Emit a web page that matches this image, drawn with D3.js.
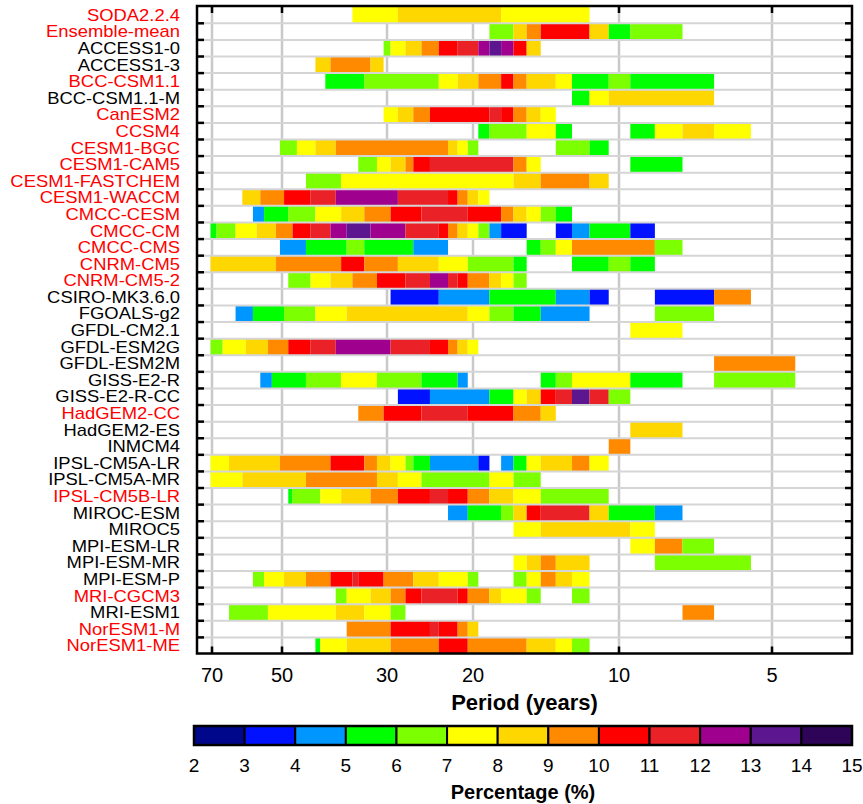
<!DOCTYPE html>
<html>
<head>
<meta charset="utf-8">
<script src="https://cdn.jsdelivr.net/npm/d3@7"></script>
<style>
  html, body { margin: 0; padding: 0; background: #fff; }
  svg { display: block; font-family: "Liberation Sans", Arial, sans-serif; }
</style>
</head>
<body>
<svg id="chart" width="863" height="804"></svg>
<script>
const models = [
  "SODA2.2.4", "Ensemble-mean", "ACCESS1-0", "ACCESS1-3", "BCC-CSM1.1", "BCC-CSM1.1-M",
  "CanESM2", "CCSM4", "CESM1-BGC", "CESM1-CAM5", "CESM1-FASTCHEM", "CESM1-WACCM",
  "CMCC-CESM", "CMCC-CM", "CMCC-CMS", "CNRM-CM5", "CNRM-CM5-2", "CSIRO-MK3.6.0",
  "FGOALS-g2", "GFDL-CM2.1", "GFDL-ESM2G", "GFDL-ESM2M", "GISS-E2-R", "GISS-E2-R-CC",
  "HadGEM2-CC", "HadGEM2-ES", "INMCM4", "IPSL-CM5A-LR", "IPSL-CM5A-MR", "IPSL-CM5B-LR",
  "MIROC-ESM", "MIROC5", "MPI-ESM-LR", "MPI-ESM-MR", "MPI-ESM-P", "MRI-CGCM3",
  "MRI-ESM1", "NorESM1-M", "NorESM1-ME"
];

const redModels = [
  "SODA2.2.4", "Ensemble-mean", "BCC-CSM1.1", "CanESM2", "CCSM4", "CESM1-BGC", "CESM1-CAM5",
  "CESM1-FASTCHEM", "CESM1-WACCM", "CMCC-CESM", "CMCC-CM", "CMCC-CMS", "CNRM-CM5",
  "CNRM-CM5-2", "HadGEM2-CC", "IPSL-CM5B-LR", "MRI-CGCM3", "NorESM1-M", "NorESM1-ME"
];

const periodTicks = [70, 50, 30, 20, 10, 5];
const framedTicks = [70, 50, 10, 5];

const colorEdges = [2, 3, 4, 5, 6, 7, 8, 9, 10, 11, 12, 13, 14, 15];
const binColors = [
  "#00078a", "#0012ff", "#0096ff", "#00ff00", "#7cff00", "#ffff00", "#ffd700",
  "#ff8a00", "#ff0000", "#ea2227", "#a0008e", "#5c1790", "#2d0458"
];

// one list per model: [longest period, shortest period, percentage], periods in whole years
const runs = [
  [[35, 29, 7.5], [28, 18, 8.5], [17, 12, 7.5]],
  [[18, 17, 6.5], [16, 16, 8.5], [15, 15, 9.5], [14, 12, 10.5], [11, 11, 8.5], [10, 10, 5.5], [9, 8, 6.5]],
  [[30, 30, 6.5], [29, 28, 7.5], [27, 26, 8.5], [25, 24, 9.5], [23, 22, 10.5], [21, 20, 11.5], [19, 19, 12.5],
   [18, 18, 13.5], [17, 17, 12.5], [16, 16, 10.5], [15, 15, 8.5]],
  [[42, 40, 8.5], [39, 33, 9.5], [32, 31, 8.5]],
  [[40, 34, 5.5], [33, 24, 6.5], [23, 22, 7.5], [21, 20, 8.5], [19, 18, 9.5], [17, 17, 10.5], [16, 16, 9.5],
   [15, 14, 8.5], [13, 13, 7.5], [12, 11, 5.5], [10, 10, 6.5], [9, 7, 5.5]],
  [[12, 12, 5.5], [11, 11, 7.5], [10, 7, 8.5]],
  [[30, 29, 7.5], [28, 27, 8.5], [26, 25, 9.5], [24, 19, 10.5], [18, 18, 11.5], [17, 17, 10.5], [16, 16, 9.5],
   [15, 15, 8.5], [14, 14, 7.5]],
  [[19, 19, 5.5], [18, 16, 6.5], [15, 14, 7.5], [13, 13, 5.5], [9, 9, 5.5], [8, 8, 7.5], [7, 7, 8.5], [6, 6, 7.5]],
  [[50, 47, 6.5], [46, 43, 7.5], [42, 39, 8.5], [38, 23, 9.5], [22, 22, 8.5], [21, 21, 7.5], [20, 20, 6.5],
   [13, 12, 6.5], [11, 11, 5.5]],
  [[34, 32, 6.5], [31, 30, 7.5], [29, 28, 8.5], [27, 27, 9.5], [26, 25, 10.5], [24, 17, 11.5], [16, 16, 9.5],
   [15, 15, 7.5], [9, 8, 5.5]],
  [[44, 38, 6.5], [37, 17, 7.5], [16, 15, 8.5], [14, 12, 9.5], [11, 11, 8.5]],
  [[60, 56, 8.5], [55, 50, 9.5], [49, 44, 10.5], [43, 39, 11.5], [38, 29, 12.5], [28, 23, 11.5], [22, 22, 10.5],
   [21, 21, 9.5], [20, 20, 8.5], [19, 19, 7.5]],
  [[57, 55, 4.5], [54, 49, 5.5], [48, 43, 6.5], [42, 38, 7.5], [37, 34, 8.5], [33, 30, 9.5], [29, 26, 10.5],
   [25, 21, 11.5], [20, 18, 10.5], [17, 17, 9.5], [16, 16, 8.5], [15, 15, 7.5], [14, 14, 6.5], [13, 13, 5.5]],
  [[70, 69, 5.5], [68, 63, 6.5], [62, 57, 7.5], [56, 52, 8.5], [51, 48, 9.5], [47, 44, 10.5], [43, 40, 11.5],
   [39, 37, 12.5], [36, 33, 13.5], [32, 28, 12.5], [27, 24, 11.5], [23, 23, 10.5], [22, 22, 9.5], [21, 21, 8.5],
   [20, 20, 7.5], [19, 19, 6.5], [18, 18, 4.5], [17, 16, 3.5], [13, 13, 3.5], [12, 12, 4.5], [11, 10, 5.5],
   [9, 9, 3.5]],
  [[50, 45, 4.5], [44, 37, 5.5], [36, 34, 6.5], [33, 27, 5.5], [26, 23, 4.5], [15, 15, 5.5], [14, 14, 6.5],
   [13, 13, 7.5], [12, 9, 9.5], [8, 8, 6.5]],
  [[70, 52, 8.5], [51, 38, 9.5], [37, 34, 10.5], [33, 29, 9.5], [28, 24, 8.5], [23, 21, 7.5], [20, 17, 6.5],
   [16, 16, 5.5], [12, 11, 5.5], [10, 10, 6.5], [9, 9, 5.5]],
  [[48, 44, 6.5], [43, 40, 7.5], [39, 36, 8.5], [35, 32, 9.5], [31, 28, 10.5], [27, 25, 11.5], [24, 23, 12.5],
   [22, 22, 11.5], [21, 21, 10.5], [20, 19, 9.5], [18, 18, 8.5], [17, 17, 7.5], [16, 16, 6.5]],
  [[29, 24, 3.5], [23, 19, 4.5], [18, 14, 5.5], [13, 12, 4.5], [11, 11, 3.5], [8, 7, 3.5], [6, 6, 9.5]],
  [[62, 58, 4.5], [57, 50, 5.5], [49, 43, 6.5], [42, 37, 7.5], [36, 21, 8.5], [20, 19, 7.5], [18, 17, 6.5],
   [16, 15, 5.5], [14, 12, 4.5], [8, 7, 6.5]],
  [[9, 8, 7.5]],
  [[70, 67, 6.5], [66, 60, 7.5], [59, 54, 8.5], [53, 49, 9.5], [48, 44, 10.5], [43, 39, 11.5], [38, 30, 12.5],
   [29, 25, 11.5], [24, 23, 10.5], [22, 22, 9.5], [21, 21, 8.5], [20, 20, 7.5]],
  [[6, 5, 9.5]],
  [[55, 53, 4.5], [52, 45, 5.5], [44, 38, 6.5], [37, 32, 7.5], [31, 26, 6.5], [25, 22, 5.5], [21, 21, 4.5],
   [14, 14, 5.5], [13, 13, 6.5], [12, 10, 7.5], [9, 8, 5.5], [6, 5, 6.5]],
  [[28, 25, 3.5], [24, 19, 4.5], [18, 17, 5.5], [16, 16, 7.5], [15, 15, 8.5], [14, 14, 10.5], [13, 13, 11.5],
   [12, 12, 13.5], [11, 11, 11.5], [10, 10, 6.5]],
  [[34, 31, 9.5], [30, 26, 10.5], [25, 21, 11.5], [20, 17, 10.5], [16, 15, 9.5], [14, 14, 8.5]],
  [[9, 8, 8.5]],
  [[10, 10, 9.5]],
  [[70, 65, 7.5], [64, 51, 8.5], [50, 40, 9.5], [39, 34, 10.5], [33, 32, 9.5], [31, 30, 8.5], [29, 28, 7.5],
   [27, 27, 6.5], [26, 25, 5.5], [24, 20, 4.5], [19, 19, 3.5], [17, 17, 4.5], [16, 16, 5.5], [15, 15, 7.5],
   [14, 13, 8.5], [12, 12, 9.5], [11, 11, 7.5]],
  [[70, 61, 7.5], [60, 45, 8.5], [44, 32, 9.5], [31, 29, 8.5], [28, 26, 7.5], [25, 19, 6.5], [18, 17, 7.5],
   [16, 15, 6.5]],
  [[48, 48, 5.5], [47, 42, 6.5], [41, 38, 7.5], [37, 33, 8.5], [32, 29, 9.5], [28, 25, 10.5], [24, 23, 11.5],
   [22, 21, 10.5], [20, 19, 9.5], [18, 17, 8.5], [16, 15, 7.5], [14, 11, 6.5]],
  [[22, 21, 4.5], [20, 18, 5.5], [17, 17, 6.5], [16, 16, 8.5], [15, 15, 10.5], [14, 12, 11.5], [11, 11, 8.5],
   [10, 9, 5.5], [8, 8, 4.5]],
  [[16, 15, 7.5], [14, 10, 8.5], [9, 9, 7.5]],
  [[9, 9, 7.5], [8, 8, 9.5], [7, 7, 6.5]],
  [[16, 16, 7.5], [15, 15, 8.5], [14, 14, 9.5], [13, 12, 8.5], [8, 6, 6.5]],
  [[57, 55, 6.5], [54, 50, 7.5], [49, 45, 8.5], [44, 40, 9.5], [39, 36, 10.5], [35, 35, 11.5], [34, 31, 10.5],
   [30, 27, 9.5], [26, 24, 8.5], [23, 21, 7.5], [20, 20, 6.5], [16, 16, 6.5], [15, 15, 7.5], [14, 14, 9.5],
   [13, 13, 8.5], [12, 12, 7.5]],
  [[38, 37, 6.5], [36, 33, 7.5], [32, 30, 8.5], [29, 28, 9.5], [27, 26, 10.5], [25, 22, 11.5], [21, 21, 10.5],
   [20, 19, 9.5], [18, 18, 8.5], [17, 16, 7.5], [15, 15, 6.5], [12, 12, 6.5]],
  [[64, 54, 6.5], [53, 39, 7.5], [38, 34, 8.5], [33, 30, 7.5], [29, 28, 6.5], [7, 7, 9.5]],
  [[36, 30, 9.5], [29, 25, 10.5], [24, 24, 11.5], [23, 22, 10.5], [21, 21, 9.5], [20, 20, 8.5]],
  [[42, 42, 5.5], [41, 37, 7.5], [36, 30, 8.5], [29, 24, 9.5], [23, 21, 10.5], [20, 16, 9.5], [15, 14, 8.5],
   [13, 13, 7.5], [12, 12, 6.5]]
];

(function () {
  "use strict";

  const svg = d3.select("#chart");
  const left = 197, right = 852, top = 6, bottom = 653.5;

  // period axis is logarithmic, pinned at the labelled periods
  const x = d3.scaleLog().domain(periodTicks).range([212, 282, 387, 473, 619, 772]);
  const y = d3.scaleBand().domain(models).range([6.7, 654]);
  const color = d3.scaleThreshold().domain(colorEdges.slice(1, -1)).range(binColors);

  const cells = runs.flatMap((list, i) =>
    list.map(([from, to, pct]) => ({ model: models[i], from, to, pct })));

  svg.append("rect").attr("width", 863).attr("height", 804).attr("fill", "#fff");

  svg.append("g")
    .selectAll("line")
    .data(periodTicks)
    .join("line")
    .attr("x1", (d) => x(d)).attr("x2", (d) => x(d))
    .attr("y1", top).attr("y2", bottom)
    .attr("stroke", "#c9c9c9")
    .attr("stroke-width", 2.5);

  svg.append("g")
    .selectAll("rect")
    .data(cells)
    .join("rect")
    .attr("x", (d) => x(d.from + 0.5))
    .attr("width", (d) => x(d.to - 0.5) - x(d.from + 0.5))
    .attr("y", (d) => y(d.model))
    .attr("height", y.bandwidth())
    .attr("fill", (d) => color(d.pct));

  const bounds = models.slice(1);
  svg.append("g")
    .selectAll("line")
    .data(bounds)
    .join("line")
    .attr("x1", left).attr("x2", right)
    .attr("y1", (d) => y(d)).attr("y2", (d) => y(d))
    .attr("stroke", "#d5d5d5")
    .attr("stroke-width", 2);

  // row ticks on both sides, period ticks on top and bottom
  const ticks = svg.append("g").attr("stroke", "#000").attr("stroke-width", 2.5);
  ticks.selectAll(".tl").data(bounds).join("line").attr("class", "tl")
    .attr("x1", left).attr("x2", left + 7)
    .attr("y1", (d) => y(d)).attr("y2", (d) => y(d));
  ticks.selectAll(".tr").data(bounds).join("line").attr("class", "tr")
    .attr("x1", right).attr("x2", right - 7)
    .attr("y1", (d) => y(d)).attr("y2", (d) => y(d));
  ticks.selectAll(".tt").data(framedTicks).join("line").attr("class", "tt")
    .attr("x1", (d) => x(d)).attr("x2", (d) => x(d))
    .attr("y1", top).attr("y2", top + 7);
  ticks.selectAll(".tb").data(framedTicks).join("line").attr("class", "tb")
    .attr("x1", (d) => x(d)).attr("x2", (d) => x(d))
    .attr("y1", bottom).attr("y2", bottom - 7);

  svg.append("rect")
    .attr("x", left).attr("y", top)
    .attr("width", right - left).attr("height", bottom - top)
    .attr("fill", "none")
    .attr("stroke", "#000")
    .attr("stroke-width", 2.5);

  // model names are drawn a little wide, as in the source figure
  svg.append("g")
    .attr("transform", "translate(180,0) scale(1.15,1)")
    .attr("font-size", 16)
    .attr("text-anchor", "end")
    .selectAll("text")
    .data(models)
    .join("text")
    .attr("x", 0)
    .attr("y", (d) => y(d) + y.bandwidth() / 2)
    .attr("dy", "0.36em")
    .attr("fill", (d) => (redModels.includes(d) ? "#ff0000" : "#000"))
    .text((d) => d);

  svg.append("g")
    .attr("font-size", 20)
    .attr("text-anchor", "middle")
    .selectAll("text")
    .data(periodTicks)
    .join("text")
    .attr("x", (d) => x(d))
    .attr("y", 682)
    .text((d) => d);

  svg.append("text")
    .attr("x", (left + right) / 2).attr("y", 710)
    .attr("text-anchor", "middle")
    .attr("font-size", 22).attr("font-weight", "bold")
    .text("Period (years)");

  // colour bar
  const cx = d3.scaleLinear().domain([2, 15]).range([194, 852]);
  const bar = svg.append("g");
  bar.selectAll("rect")
    .data(binColors)
    .join("rect")
    .attr("x", (d, i) => cx(colorEdges[i]))
    .attr("width", (d, i) => cx(colorEdges[i + 1]) - cx(colorEdges[i]))
    .attr("y", 726).attr("height", 19)
    .attr("fill", (d) => d)
    .attr("stroke", "#000")
    .attr("stroke-width", 2);
  bar.append("rect")
    .attr("x", cx(2)).attr("y", 726)
    .attr("width", cx(15) - cx(2)).attr("height", 19)
    .attr("fill", "none")
    .attr("stroke", "#000")
    .attr("stroke-width", 2.5);
  bar.selectAll("text")
    .data(colorEdges)
    .join("text")
    .attr("x", (d) => cx(d))
    .attr("y", 772)
    .attr("text-anchor", "middle")
    .attr("font-size", 19)
    .text((d) => d);

  svg.append("text")
    .attr("x", (cx(2) + cx(15)) / 2).attr("y", 799)
    .attr("text-anchor", "middle")
    .attr("font-size", 20).attr("font-weight", "bold")
    .text("Percentage (%)");
})();
</script>
</body>
</html>
